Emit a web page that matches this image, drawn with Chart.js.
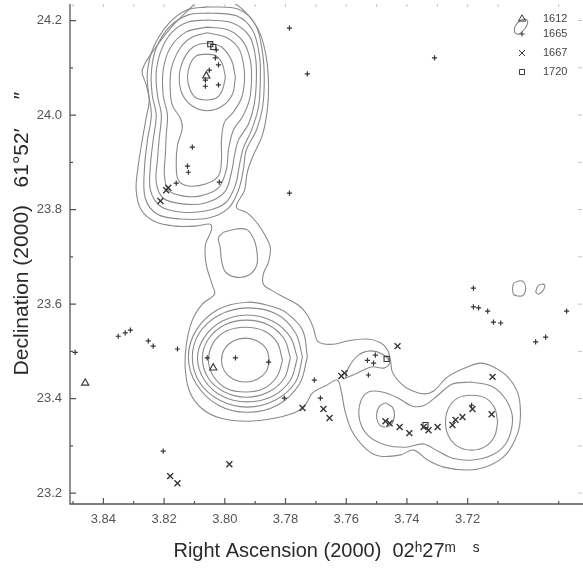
<!DOCTYPE html>
<html><head><meta charset="utf-8">
<script src="https://cdn.jsdelivr.net/npm/chart.js@4"></script>
<style>html,body{margin:0;padding:0;background:#fff;}canvas{display:block;}</style>
</head><body>
<canvas id="c" width="583" height="568"></canvas>
<script>
// ---- axis ranges and ticks ----
const raRange = [3.682, 3.851];
const decRange = [23.177, 24.235];
const raTicks = [3.84, 3.82, 3.80, 3.78, 3.76, 3.74, 3.72];
const raMinor = [3.85, 3.83, 3.81, 3.79, 3.77, 3.75, 3.73, 3.71, 3.69];
const decTicks = [23.2, 23.4, 23.6, 23.8, 24.0, 24.2];
const decMinor = [23.3, 23.5, 23.7, 23.9, 24.1];

// ---- maser spots [RA s, Dec "] ----
const oh1612 = [[3.8038,23.465],[3.8460,23.433],[3.8061,24.083]];
const oh1665 = [[3.7787,24.184],[3.7728,24.087],[3.7309,24.121],[3.8028,24.138],[3.8031,24.121],[3.8021,24.106],[3.8051,24.095],[3.8064,24.074],[3.8064,24.061],[3.8021,24.064],[3.8107,23.932],[3.8123,23.892],[3.8120,23.879],[3.8160,23.856],[3.8018,23.858],[3.7787,23.835],[3.8058,23.486],[3.7965,23.486],[3.7856,23.477],[3.7804,23.401],[3.7685,23.401],[3.7705,23.439],[3.7530,23.481],[3.7510,23.475],[3.7504,23.492],[3.7527,23.450],[3.8351,23.532],[3.8328,23.539],[3.8311,23.545],[3.8252,23.522],[3.8236,23.511],[3.8156,23.505],[3.8493,23.498],[3.8203,23.289],[3.7181,23.634],[3.7181,23.594],[3.7164,23.592],[3.7134,23.585],[3.7115,23.562],[3.7091,23.560],[3.6976,23.520],[3.6943,23.530],[3.6874,23.585],[3.7187,23.386]];
const oh1667 = [[3.8193,23.841],[3.8186,23.846],[3.8212,23.818],[3.7744,23.380],[3.7675,23.378],[3.7655,23.359],[3.7985,23.261],[3.8180,23.236],[3.8156,23.221],[3.7616,23.448],[3.7606,23.454],[3.7431,23.511],[3.7471,23.352],[3.7457,23.348],[3.7424,23.340],[3.7392,23.327],[3.7345,23.340],[3.7329,23.333],[3.7299,23.340],[3.7250,23.344],[3.7240,23.355],[3.7217,23.361],[3.7184,23.378],[3.7121,23.367],[3.7118,23.446]];
const oh1720 = [[3.8048,24.150],[3.8038,24.144],[3.7467,23.484],[3.7339,23.344]];

// ---- continuum contours [RA s, Dec "] ----
const cT1 = [[3.7998,24.080],[3.8008,24.108],[3.8028,24.125],[3.8061,24.129],[3.8094,24.125],[3.8114,24.108],[3.8123,24.080],[3.8114,24.053],[3.8094,24.036],[3.8061,24.032],[3.8028,24.036],[3.8008,24.053],[3.7998,24.080]];
const cT2 = [[3.7965,24.080],[3.7978,24.116],[3.8011,24.144],[3.8058,24.152],[3.8104,24.144],[3.8137,24.116],[3.8150,24.080],[3.8140,24.044],[3.8107,24.019],[3.8058,24.009],[3.8008,24.019],[3.7975,24.044],[3.7965,24.080]];
const cT3 = [[3.8058,24.174],[3.7998,24.165],[3.7955,24.142],[3.7939,24.110],[3.7935,24.074],[3.7945,24.036],[3.7972,24.006],[3.8001,23.985],[3.8011,23.947],[3.8011,23.905],[3.8021,23.871],[3.8064,23.854],[3.8120,23.850],[3.8153,23.862],[3.8160,23.894],[3.8156,23.936],[3.8140,23.972],[3.8147,23.994],[3.8173,24.021],[3.8180,24.057],[3.8176,24.099],[3.8147,24.142],[3.8107,24.165],[3.8058,24.174]];
const cT4 = [[3.8058,24.186],[3.7988,24.180],[3.7939,24.155],[3.7916,24.116],[3.7912,24.074],[3.7919,24.032],[3.7942,23.996],[3.7972,23.968],[3.7988,23.926],[3.7995,23.884],[3.8021,23.846],[3.8081,23.829],[3.8140,23.829],[3.8186,23.841],[3.8199,23.873],[3.8196,23.915],[3.8193,23.958],[3.8189,24.000],[3.8203,24.042],[3.8203,24.095],[3.8180,24.142],[3.8127,24.176],[3.8058,24.186]];
const cT5 = [[3.8058,24.201],[3.7975,24.195],[3.7919,24.167],[3.7899,24.123],[3.7896,24.074],[3.7903,24.023],[3.7922,23.981],[3.7955,23.947],[3.7968,23.915],[3.7978,23.879],[3.8001,23.837],[3.8064,23.814],[3.8140,23.812],[3.8203,23.824],[3.8226,23.858],[3.8222,23.905],[3.8216,23.951],[3.8209,24.000],[3.8222,24.042],[3.8226,24.091],[3.8209,24.138],[3.8173,24.176],[3.8120,24.197],[3.8058,24.201]];
const cT6 = [[3.8058,24.216],[3.7962,24.210],[3.7909,24.180],[3.7886,24.127],[3.7883,24.074],[3.7889,24.017],[3.7912,23.968],[3.7939,23.930],[3.7952,23.894],[3.7965,23.852],[3.7998,23.814],[3.8064,23.797],[3.8147,23.795],[3.8212,23.807],[3.8245,23.841],[3.8245,23.894],[3.8236,23.947],[3.8226,24.000],[3.8239,24.042],[3.8242,24.091],[3.8226,24.142],[3.8180,24.188],[3.8120,24.212],[3.8058,24.216]];
const cT7 = [[3.8058,24.229],[3.7955,24.224],[3.7899,24.191],[3.7876,24.133],[3.7870,24.074],[3.7876,24.015],[3.7896,23.968],[3.7929,23.926],[3.7939,23.884],[3.7955,23.841],[3.7988,23.803],[3.8054,23.782],[3.8147,23.780],[3.8222,23.790],[3.8262,23.824],[3.8265,23.884],[3.8255,23.947],[3.8242,24.000],[3.8252,24.049],[3.8255,24.091],[3.8236,24.142],[3.8186,24.193],[3.8127,24.222],[3.8058,24.229]];
const cOuter = [[3.8064,24.256],[3.7988,24.243],[3.7932,24.218],[3.7886,24.176],[3.7863,24.121],[3.7856,24.064],[3.7860,24.011],[3.7876,23.958],[3.7906,23.915],[3.7926,23.879],[3.7935,23.841],[3.7962,23.805],[3.7926,23.793],[3.7893,23.771],[3.7866,23.744],[3.7850,23.719],[3.7856,23.689],[3.7873,23.664],[3.7873,23.642],[3.7843,23.628],[3.7800,23.613],[3.7758,23.598],[3.7728,23.577],[3.7708,23.549],[3.7692,23.520],[3.7642,23.515],[3.7596,23.522],[3.7530,23.526],[3.7487,23.518],[3.7464,23.503],[3.7454,23.481],[3.7448,23.456],[3.7421,23.433],[3.7388,23.418],[3.7345,23.410],[3.7312,23.416],[3.7266,23.446],[3.7200,23.467],[3.7157,23.475],[3.7115,23.467],[3.7068,23.446],[3.7035,23.412],[3.7026,23.369],[3.7035,23.327],[3.7075,23.281],[3.7134,23.257],[3.7200,23.249],[3.7279,23.255],[3.7332,23.270],[3.7378,23.291],[3.7421,23.281],[3.7487,23.278],[3.7530,23.291],[3.7579,23.329],[3.7603,23.371],[3.7616,23.414],[3.7629,23.439],[3.7668,23.427],[3.7711,23.412],[3.7734,23.388],[3.7767,23.371],[3.7833,23.359],[3.7926,23.352],[3.8015,23.359],[3.8074,23.378],[3.8114,23.412],[3.8130,23.460],[3.8127,23.513],[3.8107,23.566],[3.8074,23.600],[3.8034,23.621],[3.8041,23.640],[3.8061,23.683],[3.8064,23.725],[3.8044,23.757],[3.8048,23.769],[3.8097,23.765],[3.8163,23.765],[3.8229,23.774],[3.8275,23.799],[3.8292,23.841],[3.8285,23.894],[3.8272,23.947],[3.8259,23.994],[3.8249,24.032],[3.8259,24.064],[3.8272,24.095],[3.8229,24.142],[3.8173,24.188],[3.8114,24.226],[3.8064,24.256]];
const cNeck = [[3.8005,23.752],[3.7962,23.759],[3.7926,23.757],[3.7903,23.735],[3.7893,23.704],[3.7896,23.680],[3.7922,23.661],[3.7965,23.657],[3.7998,23.668],[3.8011,23.693],[3.8015,23.719],[3.8021,23.740],[3.8005,23.752]];
const cM1 = [[3.7853,23.481],[3.7863,23.505],[3.7893,23.522],[3.7932,23.528],[3.7972,23.522],[3.8001,23.505],[3.8011,23.481],[3.8001,23.458],[3.7972,23.441],[3.7932,23.435],[3.7893,23.441],[3.7863,23.458],[3.7853,23.481]];
const cM2 = [[3.7810,23.481],[3.7827,23.518],[3.7870,23.543],[3.7932,23.551],[3.7995,23.543],[3.8038,23.518],[3.8054,23.481],[3.8038,23.448],[3.7995,23.422],[3.7932,23.414],[3.7870,23.422],[3.7827,23.448],[3.7810,23.481]];
const cM3 = [[3.7784,23.486],[3.7804,23.526],[3.7856,23.556],[3.7929,23.566],[3.8001,23.556],[3.8054,23.526],[3.8074,23.486],[3.8054,23.443],[3.8001,23.414],[3.7929,23.403],[3.7856,23.414],[3.7804,23.443],[3.7784,23.486]];
const cM4 = [[3.7761,23.486],[3.7784,23.530],[3.7843,23.564],[3.7926,23.577],[3.8008,23.564],[3.8067,23.530],[3.8090,23.486],[3.8067,23.439],[3.8008,23.405],[3.7926,23.393],[3.7843,23.405],[3.7784,23.439],[3.7761,23.486]];
const cM5 = [[3.7744,23.488],[3.7767,23.539],[3.7830,23.579],[3.7926,23.592],[3.8018,23.577],[3.8084,23.539],[3.8107,23.488],[3.8084,23.435],[3.8018,23.397],[3.7926,23.382],[3.7833,23.397],[3.7767,23.435],[3.7744,23.488]];
const cM6 = [[3.7728,23.488],[3.7744,23.545],[3.7800,23.583],[3.7850,23.596],[3.7926,23.604],[3.8021,23.589],[3.8094,23.545],[3.8120,23.488],[3.8094,23.431],[3.8021,23.386],[3.7926,23.371],[3.7827,23.386],[3.7754,23.431],[3.7728,23.488]];
const cLens = [[3.7603,23.443],[3.7593,23.465],[3.7560,23.492],[3.7520,23.501],[3.7481,23.494],[3.7457,23.477],[3.7474,23.465],[3.7517,23.467],[3.7570,23.452],[3.7603,23.443]];
const cS1 = [[3.7471,23.391],[3.7448,23.382],[3.7441,23.365],[3.7451,23.346],[3.7474,23.340],[3.7494,23.348],[3.7500,23.367],[3.7490,23.384],[3.7471,23.391]];
const cR2 = [[3.7190,23.435],[3.7124,23.427],[3.7082,23.405],[3.7055,23.371],[3.7055,23.338],[3.7075,23.304],[3.7118,23.281],[3.7184,23.270],[3.7250,23.274],[3.7299,23.289],[3.7345,23.304],[3.7405,23.297],[3.7471,23.302],[3.7527,23.321],[3.7556,23.355],[3.7553,23.393],[3.7527,23.414],[3.7481,23.414],[3.7428,23.401],[3.7382,23.384],[3.7342,23.386],[3.7302,23.405],[3.7250,23.431],[3.7190,23.435]];
const cR1 = [[3.7101,23.350],[3.7111,23.380],[3.7141,23.401],[3.7187,23.407],[3.7233,23.401],[3.7263,23.380],[3.7273,23.350],[3.7263,23.321],[3.7233,23.299],[3.7187,23.291],[3.7141,23.299],[3.7111,23.321],[3.7101,23.350]];
const cQ1 = [[3.7049,23.644],[3.7032,23.649],[3.7016,23.647],[3.7009,23.634],[3.7016,23.619],[3.7035,23.617],[3.7049,23.621],[3.7052,23.634],[3.7049,23.644]];
const cQ2 = [[3.6976,23.625],[3.6969,23.638],[3.6956,23.642],[3.6946,23.640],[3.6950,23.630],[3.6966,23.621],[3.6976,23.625]];
const cQ3 = [[3.7045,24.174],[3.7045,24.186],[3.7029,24.199],[3.7009,24.203],[3.7002,24.197],[3.7012,24.182],[3.7032,24.171],[3.7045,24.174]];

const contours = [cT1,cT2,cT3,cT4,cT5,cT6,cT7,cOuter,cNeck,cM1,cM2,cM3,cM4,cM5,cM6,cLens,cS1,cR2,cR1,cQ1,cQ2,cQ3];

const toPts = a => a.map(p => ({x: p[0], y: p[1]}));
const markColor = '#363636';
const markerSets = [
  {label:'1612', data: toPts(oh1612), pointStyle:'triangle', pointRadius:4.2, pointBorderWidth:1.1},
  {label:'1665', data: toPts(oh1665), pointStyle:'cross', pointRadius:2.6, pointBorderWidth:1.2},
  {label:'1667', data: toPts(oh1667), pointStyle:'crossRot', pointRadius:4.2, pointBorderWidth:1.4},
  {label:'1720', data: toPts(oh1720), pointStyle:'rect', pointRadius:3.6, pointBorderWidth:1.1}
].map(d => Object.assign(d, {marker:true, showLine:false, borderColor:markColor, backgroundColor:'rgba(0,0,0,0)', order:0}));

const contourSets = contours.map(c => ({label:'', data: toPts(c), showLine:true, pointRadius:0, pointHoverRadius:0,
  borderColor:'#8a8a8a', borderWidth:1.1, tension:0.35, fill:false, order:1}));

const decor = {
  id:'decor',
  afterDraw(chart){
    const {ctx, chartArea:a, scales:{x, y}} = chart;
    ctx.save();
    ctx.strokeStyle = '#555'; ctx.lineWidth = 1.3;
    ctx.beginPath(); ctx.moveTo(a.left, a.top); ctx.lineTo(a.left, a.bottom); ctx.lineTo(a.right, a.bottom); ctx.stroke();
    const seg = (px, py, dx, dy) => { ctx.moveTo(px, py); ctx.lineTo(px+dx, py+dy); };
    ctx.lineWidth = 1.2;
    ctx.beginPath();
    raTicks.forEach(v => seg(x.getPixelForValue(v), a.bottom, 0, -6));
    raMinor.forEach(v => { const p = x.getPixelForValue(v); if (p > a.left+2 && p < a.right) seg(p, a.bottom, 0, -3); });
    decTicks.forEach(v => seg(a.left, y.getPixelForValue(v), 6, 0));
    decMinor.forEach(v => seg(a.left, y.getPixelForValue(v), 3, 0));
    ctx.stroke();
    ctx.strokeStyle = '#c4c4c4'; ctx.lineWidth = 1;
    ctx.beginPath();
    raTicks.concat(raMinor).forEach(v => { const p = x.getPixelForValue(v); if (p > a.left+2 && p < a.right) seg(p, a.top, 0, 3); });
    decTicks.concat(decMinor).forEach(v => seg(a.right-1, y.getPixelForValue(v), -4, 0));
    ctx.stroke();
    // legend (top right, inside the plot)
    const rows = [15, 30, 49, 68];
    ctx.font = "11px 'Liberation Sans', Arial, sans-serif";
    ctx.textBaseline = 'middle'; ctx.textAlign = 'left';
    chart.data.datasets.filter(d => d.marker).forEach((d, i) => {
      const yy = a.top + rows[i];
      ctx.strokeStyle = markColor; ctx.fillStyle = 'rgba(0,0,0,0)'; ctx.lineWidth = 1;
      Chart.helpers.drawPoint(ctx, {pointStyle:d.pointStyle, radius:d.pointRadius, rotation:0, borderWidth:1}, a.right-61, yy);
      ctx.fillStyle = '#444';
      ctx.fillText(d.label, a.right-40, yy);
    });
    ctx.restore();
  }
};

const noPad = s => { s.paddingTop = 0; s.paddingBottom = 0; s.paddingLeft = 0; s.paddingRight = 0; };
const font = "'Liberation Sans', Arial, sans-serif";
const nb = '\u00a0';
new Chart(document.getElementById('c'), {
  type:'scatter',
  data:{datasets:[...markerSets, ...contourSets]},
  options:{
    responsive:false, animation:false, events:[],
    layout:{autoPadding:false, padding:{top:4, right:0, left:0, bottom:0}},
    plugins:{legend:{display:false}, tooltip:{enabled:false}},
    scales:{
      x:{type:'linear', reverse:true, min:raRange[0], max:raRange[1],
        grid:{display:false, drawTicks:false}, border:{display:false},
        afterBuildTicks: s => { s.ticks = raTicks.map(v => ({value:v})); },
        afterFit: s => { s.height = 64; noPad(s); },
        ticks:{autoSkip:false, maxRotation:0, padding:8, color:'#555', font:{family:font, size:13}, callback: v => Number(v).toFixed(2)},
        title:{display:true, text:'Right Ascension (2000)' + nb + nb + '02ʰ27ᵐ' + nb + nb + nb + 'ˢ', color:'#2a2a2a', font:{family:font, size:20}, padding:{top:0, bottom:5}}
      },
      y:{type:'linear', min:decRange[0], max:decRange[1],
        grid:{display:false, drawTicks:false}, border:{display:false},
        afterBuildTicks: s => { s.ticks = decTicks.map(v => ({value:v})); },
        afterFit: s => { s.width = 70; noPad(s); },
        ticks:{autoSkip:false, padding:8, color:'#555', font:{family:font, size:13}, callback: v => Number(v).toFixed(1)},
        title:{display:true, text: nb.repeat(7) + 'Declination (2000)' + nb + nb + nb + '61°52′' + nb.repeat(5) + '″', color:'#2a2a2a', font:{family:font, size:21}, padding:{top:10, bottom:0}}
      }
    }
  },
  plugins:[decor]
});
</script>
</body></html>
